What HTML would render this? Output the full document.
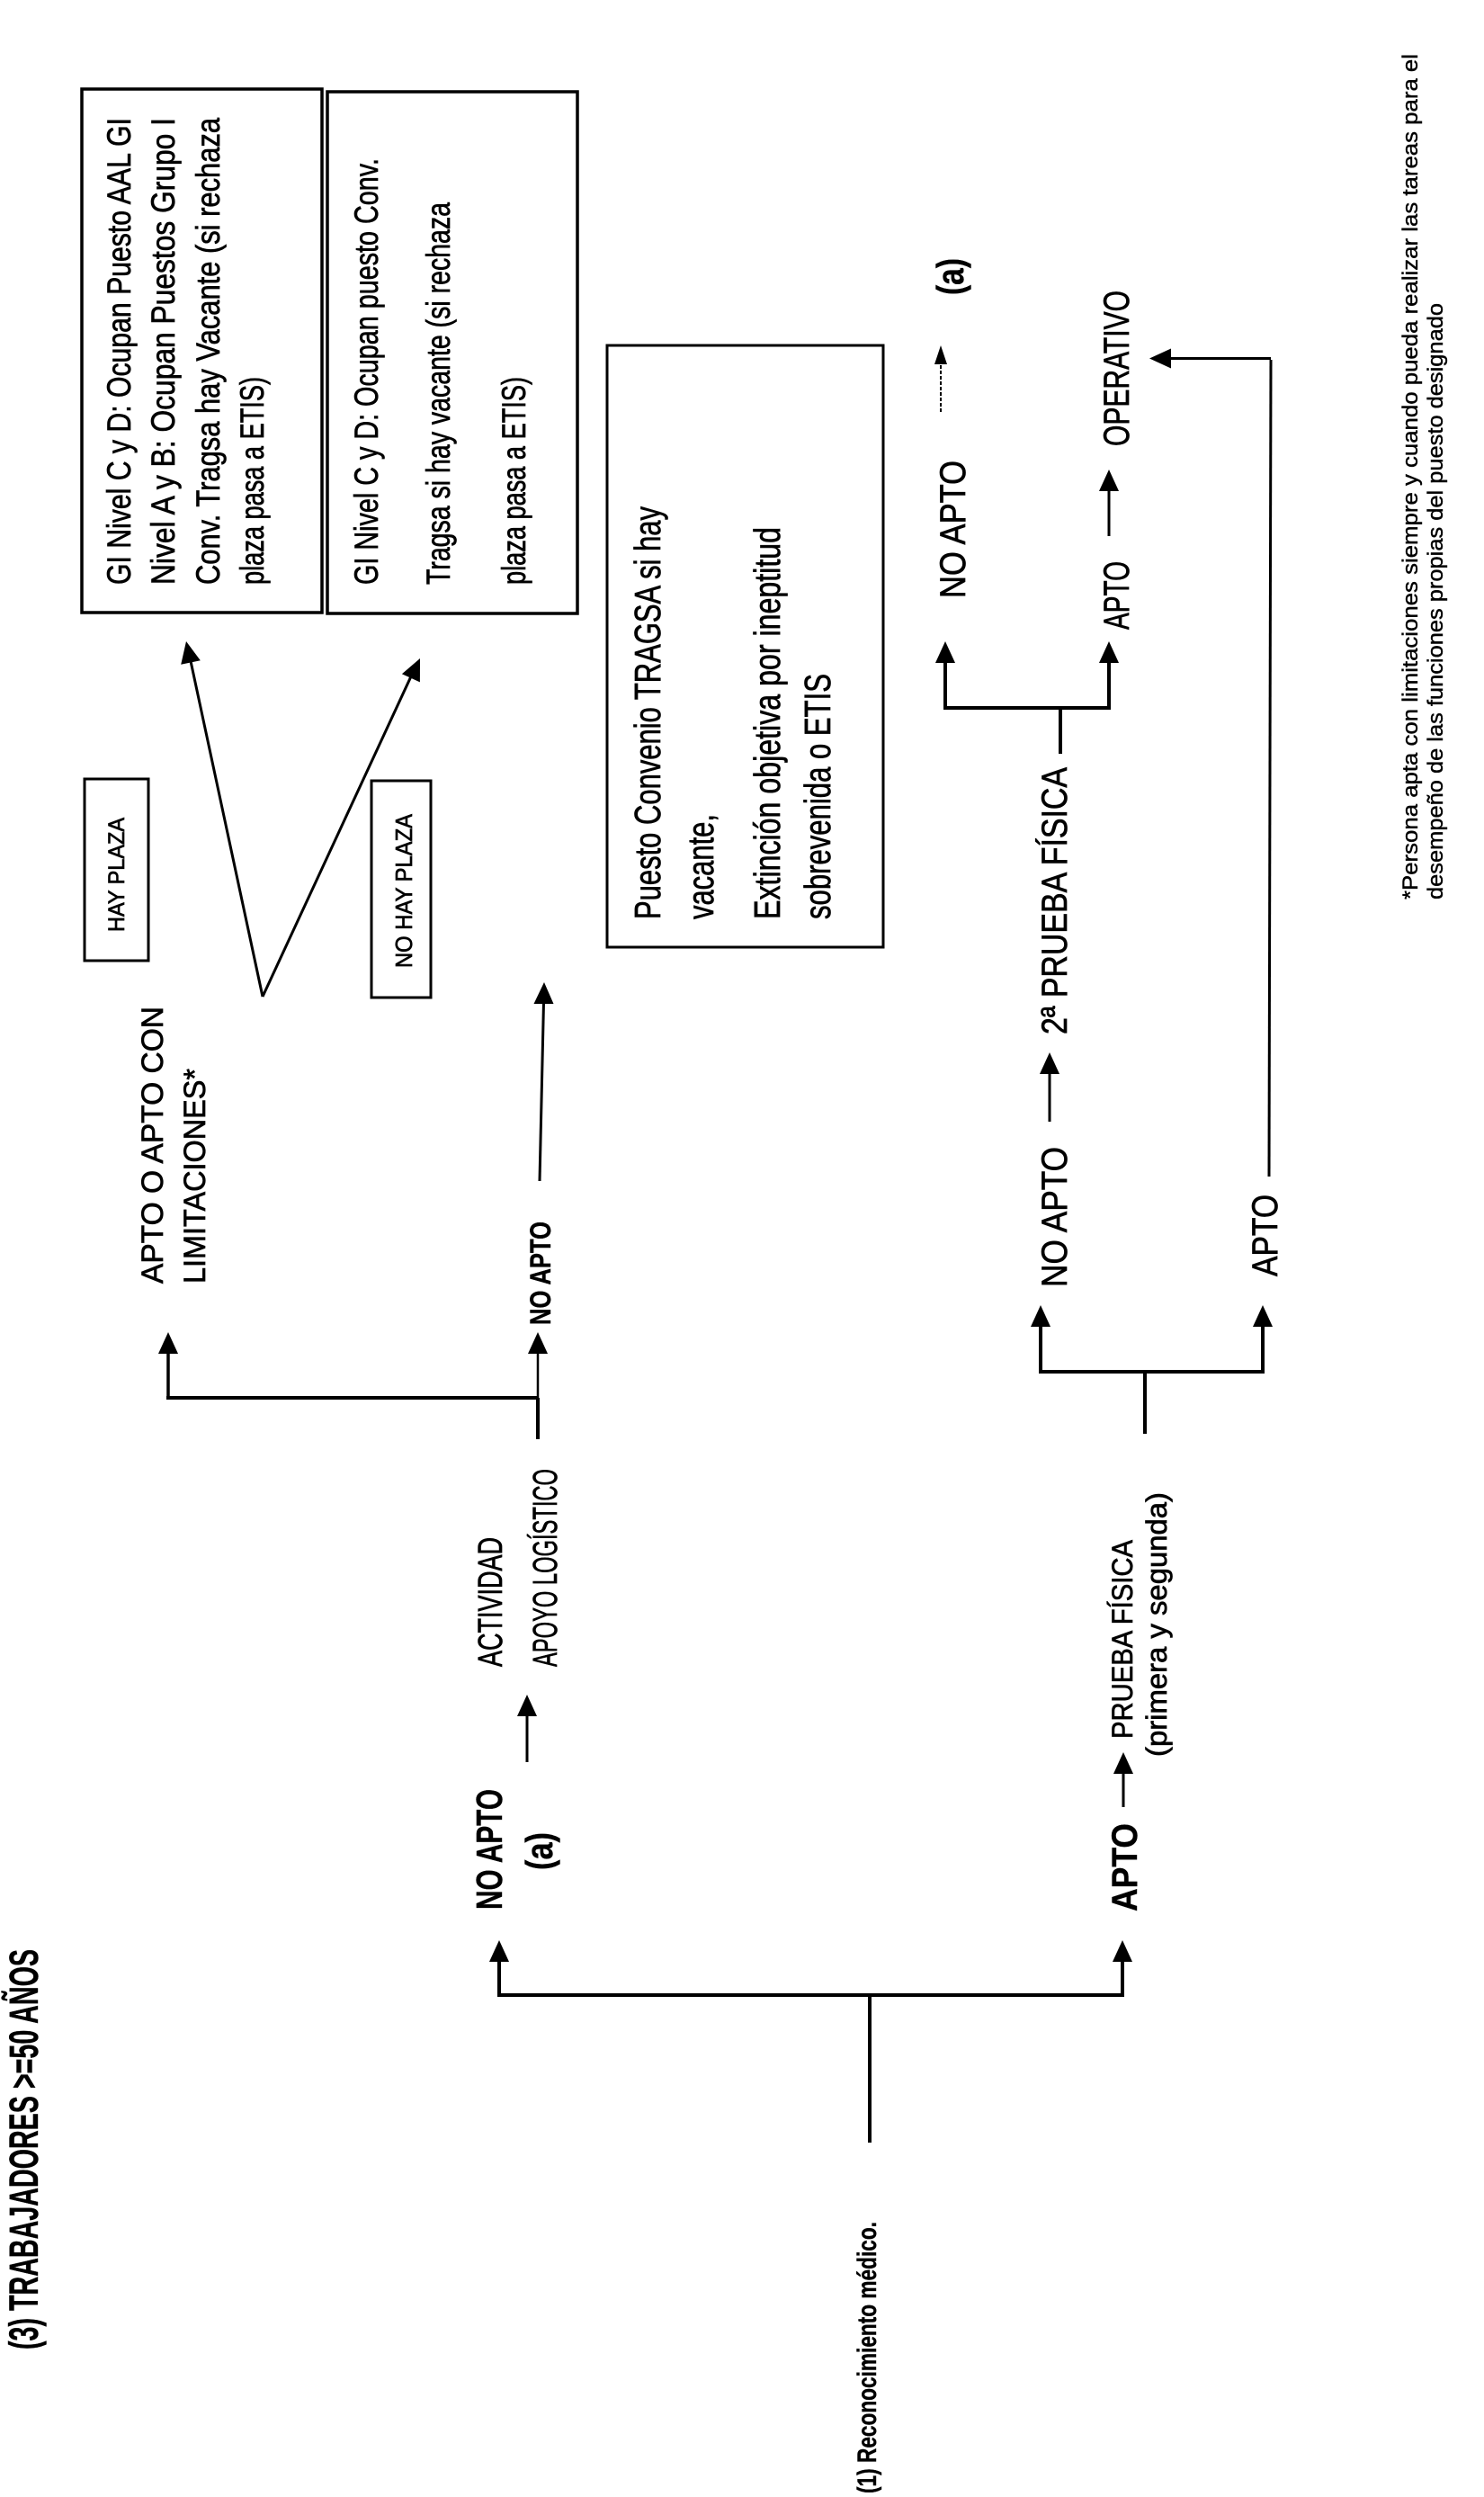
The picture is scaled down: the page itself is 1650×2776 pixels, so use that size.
<!DOCTYPE html>
<html><head><meta charset="utf-8"><style>
html,body{margin:0;padding:0;background:#fff;}
svg{display:block;}
text{font-family:"Liberation Sans",sans-serif;fill:#000;stroke:#000;stroke-width:0.7;}
.b{font-weight:bold;stroke-width:0.4;}
</style></head><body>
<svg width="1650" height="2776" viewBox="0 0 1650 2776" xmlns="http://www.w3.org/2000/svg">
<rect x="0" y="0" width="1650" height="2776" fill="#fff"/>
<g transform="translate(0 2776) rotate(-90)">
<g stroke="#000" fill="none" stroke-linecap="butt">
  <!-- Bracket A -->
  <line x1="394" y1="967" x2="558" y2="967" stroke-width="4"/>
  <line x1="558" y1="553" x2="558" y2="1250" stroke-width="4"/>
  <line x1="558" y1="555" x2="597" y2="555" stroke-width="4"/>
  <line x1="558" y1="1248" x2="597" y2="1248" stroke-width="4"/>
  <!-- arrows -->
  <line x1="817" y1="586" x2="870" y2="586" stroke-width="3"/>
  <line x1="767" y1="1249" x2="806" y2="1249" stroke-width="3"/>
  <!-- Bracket B -->
  <line x1="1176" y1="598" x2="1222" y2="598" stroke-width="4"/>
  <line x1="1222" y1="185" x2="1222" y2="599" stroke-width="4"/>
  <line x1="1222" y1="187" x2="1273" y2="187" stroke-width="3.5"/>
  <line x1="1222" y1="598" x2="1273" y2="598" stroke-width="2.5"/>
  <line x1="1463" y1="600" x2="1662" y2="604.5" stroke-width="3"/>
  <!-- diverging -->
  <line x1="1668" y1="292" x2="2041" y2="212" stroke-width="3"/>
  <line x1="1668" y1="292" x2="2024" y2="457" stroke-width="3"/>
  <!-- Bracket C -->
  <line x1="1182" y1="1273" x2="1251" y2="1273" stroke-width="4"/>
  <line x1="1251" y1="1155" x2="1251" y2="1406" stroke-width="4"/>
  <line x1="1251" y1="1157" x2="1303" y2="1157" stroke-width="4"/>
  <line x1="1251" y1="1404" x2="1303" y2="1404" stroke-width="4"/>
  <line x1="1529" y1="1167" x2="1584" y2="1167" stroke-width="3"/>
  <!-- Bracket D -->
  <line x1="1938" y1="1179" x2="1989" y2="1179" stroke-width="4"/>
  <line x1="1989" y1="1049" x2="1989" y2="1235" stroke-width="4"/>
  <line x1="1989" y1="1051" x2="2041" y2="1051" stroke-width="4"/>
  <line x1="1989" y1="1233" x2="2041" y2="1233" stroke-width="4"/>
  <line x1="2180" y1="1233" x2="2232" y2="1233" stroke-width="3"/>
  <line x1="2318" y1="1046" x2="2374" y2="1046" stroke-width="2" stroke-dasharray="4 2"/>
  <!-- long line -->
  <line x1="1468" y1="1411" x2="2376" y2="1413" stroke-width="3"/>
  <line x1="2377.5" y1="1413" x2="2377.5" y2="1300" stroke-width="3"/>
  <!-- boxes -->
  <rect x="2095" y="91" width="582" height="267" stroke-width="3.5"/>
  <rect x="2094" y="364" width="580" height="278" stroke-width="3.5"/>
  <rect x="1723" y="675" width="669" height="307" stroke-width="3"/>
  <rect x="1708" y="94" width="202" height="71" stroke-width="3"/>
  <rect x="1667" y="413" width="241" height="66" stroke-width="3"/>
</g>
<g fill="#000" stroke="none">
  <polygon points="619,555 595,544 595,566"/>
  <polygon points="619,1248 595,1237 595,1259"/>
  <polygon points="892,586 868,575 868,597"/>
  <polygon points="828,1249 804,1238 804,1260"/>
  <polygon points="1295,187 1271,176 1271,198"/>
  <polygon points="1295,598 1271,587 1271,609"/>
  <polygon points="1684,605 1660,593.5 1660,615.5"/>
  <polygon points="2063,207 2041.8,222.8 2037.2,201.2"/>
  <polygon points="2044,467 2017.6,466.9 2026.8,446.9"/>
  <polygon points="1325,1157 1301,1146 1301,1168"/>
  <polygon points="1325,1404 1301,1393 1301,1415"/>
  <polygon points="1606,1167 1582,1156 1582,1178"/>
  <polygon points="2063,1051 2039,1040 2039,1062"/>
  <polygon points="2063,1233 2039,1222 2039,1244"/>
  <polygon points="2254,1233 2230,1222 2230,1244"/>
  <polygon points="2392,1046 2371,1039 2371,1053"/>
  <polygon points="2377.5,1278 2366.5,1302 2388.5,1302"/>
</g>
<g>
  <text class="b" x="164" y="42" font-size="45" textLength="445" lengthAdjust="spacingAndGlyphs">(3) TRABAJADORES &gt;=50 AÑOS</text>
  <text class="b" x="4" y="974" font-size="30" textLength="302" lengthAdjust="spacingAndGlyphs">(1) Reconocimiento médico.</text>
  <text class="b" x="653" y="558" font-size="41" textLength="134" lengthAdjust="spacingAndGlyphs">NO APTO</text>
  <text class="b" x="697" y="614" font-size="42" textLength="42" lengthAdjust="spacingAndGlyphs">(a)</text>
  <text class="b" x="651" y="1264" font-size="40" textLength="98" lengthAdjust="spacingAndGlyphs">APTO</text>
  <text x="923" y="558" font-size="38" textLength="144" lengthAdjust="spacingAndGlyphs">ACTIVIDAD</text>
  <text x="923" y="619" font-size="38" textLength="220" lengthAdjust="spacingAndGlyphs">APOYO LOGÍSTICO</text>
  <text x="843" y="1259" font-size="32" textLength="221" lengthAdjust="spacingAndGlyphs">PRUEBA FÍSICA</text>
  <text x="823" y="1297" font-size="32" textLength="294" lengthAdjust="spacingAndGlyphs">(primera y segunda)</text>
  <text class="b" x="1303" y="612" font-size="32" textLength="115" lengthAdjust="spacingAndGlyphs">NO APTO</text>
  <text x="1349" y="181" font-size="34" textLength="308" lengthAdjust="spacingAndGlyphs">APTO  O  APTO  CON</text>
  <text x="1349" y="228" font-size="34" textLength="239" lengthAdjust="spacingAndGlyphs">LIMITACIONES*</text>
  <text x="1740" y="138" font-size="25" textLength="127" lengthAdjust="spacingAndGlyphs">HAY PLAZA</text>
  <text x="1700" y="458" font-size="26" textLength="171" lengthAdjust="spacingAndGlyphs">NO HAY PLAZA</text>
  <text x="1345" y="1186" font-size="40" textLength="156" lengthAdjust="spacingAndGlyphs">NO APTO</text>
  <text x="1626" y="1186" font-size="40" textLength="297" lengthAdjust="spacingAndGlyphs">2ª  PRUEBA FÍSICA</text>
  <text x="1357" y="1420" font-size="40" textLength="91" lengthAdjust="spacingAndGlyphs">APTO</text>
  <text x="2076" y="1255" font-size="40" textLength="76" lengthAdjust="spacingAndGlyphs">APTO</text>
  <text x="2280" y="1255" font-size="40" textLength="173" lengthAdjust="spacingAndGlyphs">OPERATIVO</text>
  <text x="2111" y="1073" font-size="40" textLength="153" lengthAdjust="spacingAndGlyphs">NO APTO</text>
  <text class="b" x="2448" y="1071" font-size="42" textLength="41" lengthAdjust="spacingAndGlyphs">(a)</text>
  <!-- Box 1 -->
  <text x="2126" y="145" font-size="37" textLength="519" lengthAdjust="spacingAndGlyphs">GI Nivel  C  y  D:  Ocupan  Puesto  AAL  GI</text>
  <text x="2126" y="194" font-size="37" textLength="519" lengthAdjust="spacingAndGlyphs">Nivel  A  y  B:  Ocupan  Puestos  Grupo  I</text>
  <text x="2126" y="244" font-size="37" textLength="519" lengthAdjust="spacingAndGlyphs">Conv.  Tragsa  hay  Vacante  (si  rechaza</text>
  <text x="2126" y="293" font-size="37" textLength="231" lengthAdjust="spacingAndGlyphs">plaza pasa a ETIS)</text>
  <!-- Box 2 -->
  <text x="2126" y="420" font-size="37" textLength="474" lengthAdjust="spacingAndGlyphs">GI Nivel C y D: Ocupan puesto Conv.</text>
  <text x="2126" y="500" font-size="37" textLength="425" lengthAdjust="spacingAndGlyphs">Tragsa si hay vacante (si rechaza</text>
  <text x="2126" y="584" font-size="37" textLength="231" lengthAdjust="spacingAndGlyphs">plaza pasa a ETIS)</text>
  <!-- Box 3 -->
  <text x="1754" y="734" font-size="41" textLength="459" lengthAdjust="spacingAndGlyphs">Puesto Convenio TRAGSA si hay</text>
  <text x="1754" y="793" font-size="41" textLength="117" lengthAdjust="spacingAndGlyphs">vacante,</text>
  <text x="1754" y="867" font-size="41" textLength="436" lengthAdjust="spacingAndGlyphs">Extinción objetiva por ineptitud</text>
  <text x="1754" y="923" font-size="41" textLength="273" lengthAdjust="spacingAndGlyphs">sobrevenida o ETIS</text>
  <!-- footnote -->
  <text x="1776" y="1576" font-size="24" textLength="940" lengthAdjust="spacingAndGlyphs" style="stroke-width:0.4">*Persona apta con limitaciones siempre y cuando pueda realizar las tareas para el</text>
  <text x="1776" y="1604" font-size="24" textLength="663" lengthAdjust="spacingAndGlyphs" style="stroke-width:0.4">desempeño de las funciones propias del puesto designado</text>
</g>
</g>
</svg>
</body></html>
